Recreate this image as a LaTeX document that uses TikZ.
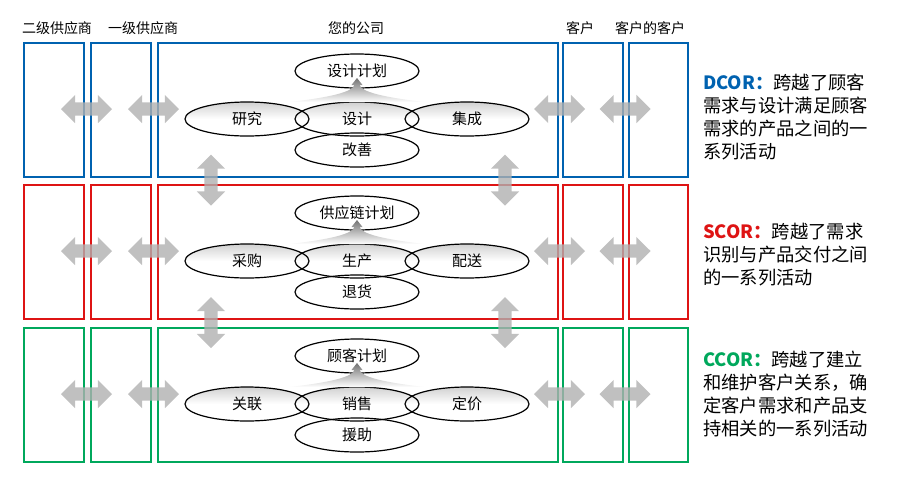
\documentclass[tikz,border=0pt]{standalone}
\usepackage{fontspec}
\setmainfont{Noto Sans CJK SC}
\usetikzlibrary{shapes,backgrounds}
\definecolor{dblue}{RGB}{0,98,176}
\definecolor{sred}{RGB}{222,20,20}
\definecolor{cgreen}{RGB}{0,168,92}

\begin{document}
\begin{tikzpicture}[x=1pt,y=-1pt,
    every node/.style={inner sep=0pt},
    colbox/.style={draw=#1,line width=1.6pt,rectangle,anchor=north west,minimum height=134pt},
    oval/.style={ellipse,draw,line width=1.2pt,minimum width=124pt,minimum height=34pt,
                 font=\fontsize{15}{15}\selectfont},
    flow/.style={double arrow,fill=black!31,fill opacity=0.8,inner sep=6.5pt,
                 double arrow head extend=7.5pt,minimum height=51pt},
    head/.style={font=\fontsize{14}{14}\selectfont},
    note/.style={anchor=west,align=left,font=\fontsize{18.3}{23}\selectfont}
   ]
  \useasboundingbox (0,0) rectangle (900,483);

  % column titles
  \node[head] (h1) at (57,28) {二级供应商};
  \node[head] (h2) at (143,28) {一级供应商};
  \node[head] (h3) at (356,28) {您的公司};
  \node[head] (h4) at (580,28) {客户};
  \node[head] (h5) at (650,28) {客户的客户};

  \foreach \y/\c/\ptop/\pwest/\pmid/\peast/\plow [count=\i] in
     {42/dblue/设计计划/研究/设计/集成/改善,
      184/sred/供应链计划/采购/生产/配送/退货,
      327/cgreen/顾客计划/关联/销售/定价/援助}{
    % columns of the chain
    \node[colbox=\c,minimum width=60pt] (sa\i) at (23,\y) {};
    \node[colbox=\c,minimum width=60pt] (sb\i) at (90,\y) {};
    \node[colbox=\c,minimum width=400pt] (co\i) at (157,\y) {};
    \node[colbox=\c,minimum width=60pt] (ca\i) at (562,\y) {};
    \node[colbox=\c,minimum width=59pt] (cb\i) at (628,\y) {};
    % processes
    \node[oval] (pl\i) at (357,\y+29) {\ptop};
    \node[oval] (le\i) at (247,\y+77) {\pwest};
    \node[oval] (mi\i) at (357,\y+77) {\pmid};
    \node[oval] (ri\i) at (467,\y+77) {\peast};
    \node[oval] (lo\i) at (357,\y+108) {\plow};
    \begin{scope}[on background layer]
      \foreach \n in {le\i,mi\i,ri\i}
        \shade[top color=black!18,bottom color=white,middle color=white]
          (\n.center) ellipse [x radius=62pt,y radius=17pt];
    \end{scope}
    \shade[top color=black!55,bottom color=white]
      (290,\y+60) .. controls (332,\y+55) and (352,\y+50) .. (354.5,\y+43)
      -- (351.5,\y+43) -- (357,\y+36) -- (362.5,\y+43) -- (359.5,\y+43)
      .. controls (362,\y+50) and (382,\y+55) .. (424,\y+60) -- cycle;
    % exchanges along the chain
    \node[flow] (fa\i) at (86.5,\y+67) {};
    \node[flow] (fb\i) at (153.5,\y+67) {};
    \node[flow] (fc\i) at (559.5,\y+67) {};
    \node[flow] (fd\i) at (625,\y+67) {};
  }

  % links between the three levels
  \node[flow,rotate=90] (va1) at (211,180) {};
  \node[flow,rotate=90] (vb1) at (505,180) {};
  \node[flow,rotate=90] (va2) at (211,322.5) {};
  \node[flow,rotate=90] (vb2) at (505,322.5) {};

  % descriptions
  \node[note] (dcor) at (703,117) {\textcolor{dblue}{\bfseries DCOR：}跨越了顾客\\需求与设计满足顾客\\需求的产品之间的一\\系列活动};
  \node[note] (scor) at (703,255) {\textcolor{sred}{\bfseries SCOR：}跨越了需求\\识别与产品交付之间\\的一系列活动};
  \node[note] (ccor) at (703,394) {\textcolor{cgreen}{\bfseries CCOR：}跨越了建立\\和维护客户关系，确\\定客户需求和产品支\\持相关的一系列活动};
\end{tikzpicture}
\end{document}
